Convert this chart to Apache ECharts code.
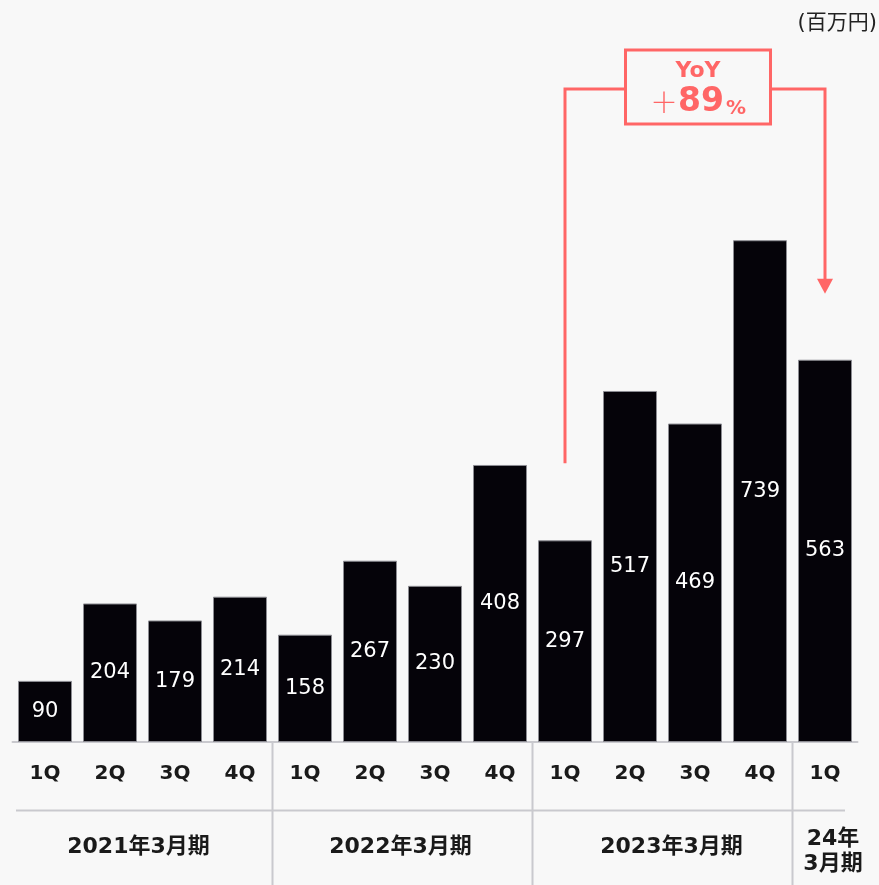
<!DOCTYPE html>
<html>
<head>
<meta charset="utf-8">
<script src="https://cdn.jsdelivr.net/npm/echarts@6/dist/echarts.min.js"></script>
<style>
html,body{margin:0;padding:0;background:#f8f8f8;}
#c{width:879px;height:885px;}
</style>
</head>
<body>
<div id="c"></div>
<script>
// ---- data ----
const quarters = ['1Q','2Q','3Q','4Q','1Q','2Q','3Q','4Q','1Q','2Q','3Q','4Q','1Q'];
const values = [90, 204, 179, 214, 158, 267, 230, 408, 297, 517, 469, 739, 563];
const fiscalYears = ['2021年3月期', '2022年3月期', '2023年3月期', '24年\n3月期'];
const fiscalGroupStart = [0, 4, 8, 12];
const fiscalGroupEnd = [3, 7, 11, 12];
const unitLabel = '(百万円)';
const yoyFrom = 8;
const yoyTo = 12;
const yoyTitle = 'YoY';
const yoyValue = '89';

const FONT = '"DejaVu Sans", "Noto Sans CJK JP", sans-serif';
const RED = '#ff6666';
const GRID_LINE = '#c9c9ce';

const chart = echarts.init(document.getElementById('c'), null, {renderer: 'canvas'});
chart.setOption({
  backgroundColor: '#f8f8f8',
  animation: false,
  grid: {left: 12.5, right: 21.5, top: 63, bottom: 143, containLabel: false},
  xAxis: {
    type: 'category',
    data: quarters,
    axisLine: {show: true, lineStyle: {color: GRID_LINE, width: 2}},
    axisTick: {show: false},
    axisLabel: {color: '#1a1a1a', fontSize: 20, fontWeight: 'bold', fontFamily: FONT, margin: 22, interval: 0}
  },
  yAxis: {
    type: 'value', min: 0, max: 1000,
    show: false, splitLine: {show: false}
  },
  series: [{
    type: 'bar',
    data: values,
    barWidth: 54,
    itemStyle: {color: '#050309', borderColor: '#8c8c92', borderWidth: 1},
    label: {show: true, position: 'inside', color: '#ffffff', fontSize: 21, fontFamily: FONT}
  }]
});

function px(i, v) { return chart.convertToPixel({xAxisIndex: 0, yAxisIndex: 0}, [i, v]); }

const x0 = px(0, 0)[0], step = px(1, 0)[0] - x0;
const baseY = px(0, 0)[1];
const xAt = i => x0 + step * i;
const g = [];

// separators between fiscal years
for (let k = 1; k < fiscalGroupStart.length; k++) {
  const x = Math.round(xAt(fiscalGroupStart[k] - 0.5)) - 0.5;
  g.push({type: 'line', shape: {x1: x, y1: baseY, x2: x, y2: 885}, style: {stroke: GRID_LINE, lineWidth: 2}, z: 1});
}
// horizontal divider
g.push({type: 'line', shape: {x1: 16, y1: 810.5, x2: 845, y2: 810.5}, style: {stroke: GRID_LINE, lineWidth: 2}, z: 1});

// fiscal-year labels
const yearOffsets = [-4, -2, 9, 8];
fiscalYears.forEach((t, k) => {
  const cx = (xAt(fiscalGroupStart[k]) + xAt(fiscalGroupEnd[k])) / 2 + yearOffsets[k];
  g.push({type: 'text', x: cx, y: k === 3 ? 852 : 847, style: {
    text: t, fill: '#1a1a1a', font: 'bold 22px ' + FONT, align: 'center', verticalAlign: 'middle', lineHeight: 25
  }, z: 5});
});

// unit label
g.push({type: 'text', x: 877, y: 24, style: {text: unitLabel, fill: '#222', font: '21px ' + FONT, align: 'right', verticalAlign: 'middle'}});

// YoY annotation
const xL = px(yoyFrom, values[yoyFrom])[0];
const xR = px(yoyTo, values[yoyTo])[0];
const yStartL = px(yoyFrom, values[yoyFrom])[1] - 77;
const yTip = px(yoyTo, values[yoyTo])[1] - 66;
const lineY = 89;
const boxW = 145, boxH = 74;
const boxCx = (xL + xR) / 2 + 3;
const boxL = boxCx - boxW / 2, boxR = boxCx + boxW / 2;
const st = {stroke: RED, lineWidth: 3, fill: null};
g.push({type: 'polyline', shape: {points: [[xL, yStartL], [xL, lineY], [boxL, lineY]]}, style: st, z: 10});
g.push({type: 'polyline', shape: {points: [[boxR, lineY], [xR, lineY], [xR, yTip - 12]]}, style: st, z: 10});
g.push({type: 'polygon', shape: {points: [[xR - 8, yTip - 15], [xR + 8, yTip - 15], [xR, yTip]]}, style: {fill: RED}, z: 10});
g.push({type: 'rect', shape: {x: boxL, y: 50, width: boxW, height: boxH}, style: {stroke: RED, lineWidth: 3, fill: '#f8f8f8'}, z: 10});
g.push({type: 'text', x: boxCx, y: 71, style: {text: yoyTitle, fill: RED, font: 'bold 22px ' + FONT, align: 'center', verticalAlign: 'middle'}, z: 11});
g.push({type: 'text', x: boxCx, y: 102, style: {
  text: '{p|＋}{n|' + yoyValue + '}{s|%}',
  align: 'center', verticalAlign: 'middle',
  rich: {
    p: {fill: RED, fontSize: 28, fontFamily: '"Noto Sans CJK JP", sans-serif', fontWeight: 300, verticalAlign: 'middle'},
    n: {fill: RED, fontSize: 33, fontFamily: FONT, fontWeight: 'bold', verticalAlign: 'middle'},
    s: {fill: RED, fontSize: 20, fontFamily: FONT, fontWeight: 'bold', verticalAlign: 'bottom', padding: [0, 0, 0, 2]}
  }
}, z: 11});

chart.setOption({graphic: {elements: g}});
</script>
</body>
</html>
